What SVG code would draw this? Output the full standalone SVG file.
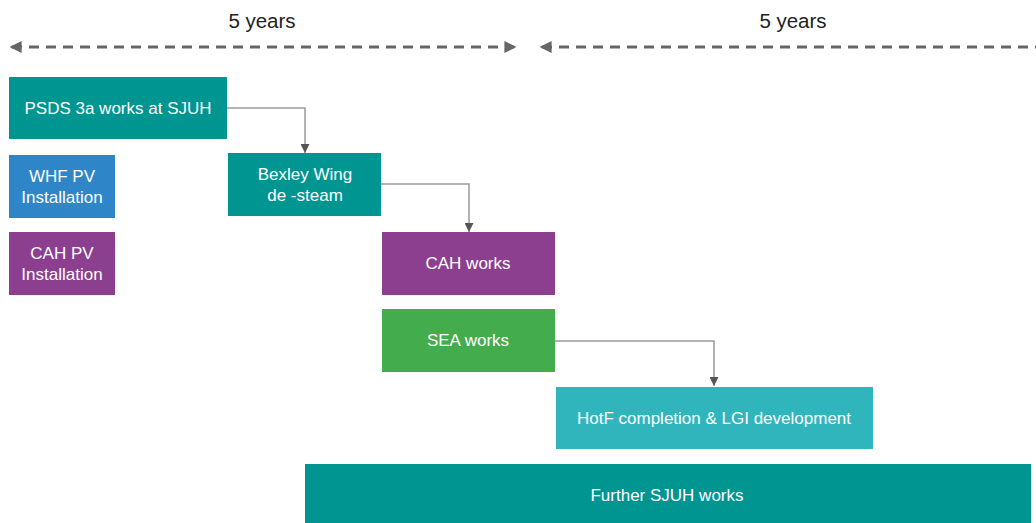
<svg xmlns="http://www.w3.org/2000/svg" width="1036" height="523" viewBox="0 0 1036 523">
<style>
.lbl{font-family:"Liberation Sans",Arial,sans-serif;font-size:17px;fill:#ffffff;text-anchor:middle}
.yr{font-family:"Liberation Sans",Arial,sans-serif;font-size:20.5px;fill:#222222;text-anchor:middle}
.dash{stroke:#666666;stroke-width:3;stroke-dasharray:10 7;fill:none}
.conn{stroke:#9a9a9a;stroke-width:1.5;fill:none}
.teal{fill:#009591}
.blue{fill:#2E86C9}
.purple{fill:#8B3F8E}
.green{fill:#43AC4C}
.cyan{fill:#31B5BC}
</style>
<defs>
<marker id="dh" viewBox="0 0 10 10" refX="8" refY="5" markerWidth="4" markerHeight="4" orient="auto-start-reverse" markerUnits="strokeWidth">
<path d="M0,0 L10,5 L0,10 z" fill="#666666"/>
</marker>
<marker id="ah" viewBox="0 0 10 10" refX="10" refY="5" markerWidth="9" markerHeight="9" orient="auto" markerUnits="userSpaceOnUse">
<path d="M0,0 L10,5 L0,10 z" fill="#555555"/>
</marker>
</defs>
<rect width="1036" height="523" fill="#ffffff"/>
<g id="timeline">
<text class="yr" x="262" y="28">5 years</text>
<line class="dash" x1="12" y1="47" x2="514" y2="47" marker-start="url(#dh)" marker-end="url(#dh)"/>
<text class="yr" x="793" y="28">5 years</text>
<line class="dash" x1="542" y1="47" x2="1040" y2="47" marker-start="url(#dh)"/>
</g>
<g id="connectors">
<path class="conn" d="M227,108 H305 V153" marker-end="url(#ah)"/>
<path class="conn" d="M381,184 H469 V232" marker-end="url(#ah)"/>
<path class="conn" d="M555,341 H714 V386" marker-end="url(#ah)"/>
</g>
<g id="psds"><rect class="teal" x="9" y="77" width="218" height="62"/><text class="lbl" x="118" y="114">PSDS 3a works at SJUH</text></g>
<g id="whf"><rect class="blue" x="9" y="155" width="106" height="63"/><text class="lbl" x="62" y="182">WHF PV</text><text class="lbl" x="62" y="203">Installation</text></g>
<g id="cahpv"><rect class="purple" x="9" y="232" width="106" height="63"/><text class="lbl" x="62" y="259">CAH PV</text><text class="lbl" x="62" y="280">Installation</text></g>
<g id="bexley"><rect class="teal" x="228" y="153" width="153" height="63"/><text class="lbl" x="305" y="180">Bexley Wing</text><text class="lbl" x="305" y="201">de -steam</text></g>
<g id="cahworks"><rect class="purple" x="382" y="232" width="173" height="63"/><text class="lbl" x="468" y="269">CAH works</text></g>
<g id="sea"><rect class="green" x="382" y="309" width="173" height="63"/><text class="lbl" x="468" y="346">SEA works</text></g>
<g id="hotf"><rect class="cyan" x="556" y="387" width="317" height="62"/><text class="lbl" x="714" y="424">HotF completion &amp; LGI development</text></g>
<g id="further"><rect class="teal" x="305" y="464" width="726" height="59"/><text class="lbl" x="667" y="501">Further SJUH works</text></g>
</svg>
